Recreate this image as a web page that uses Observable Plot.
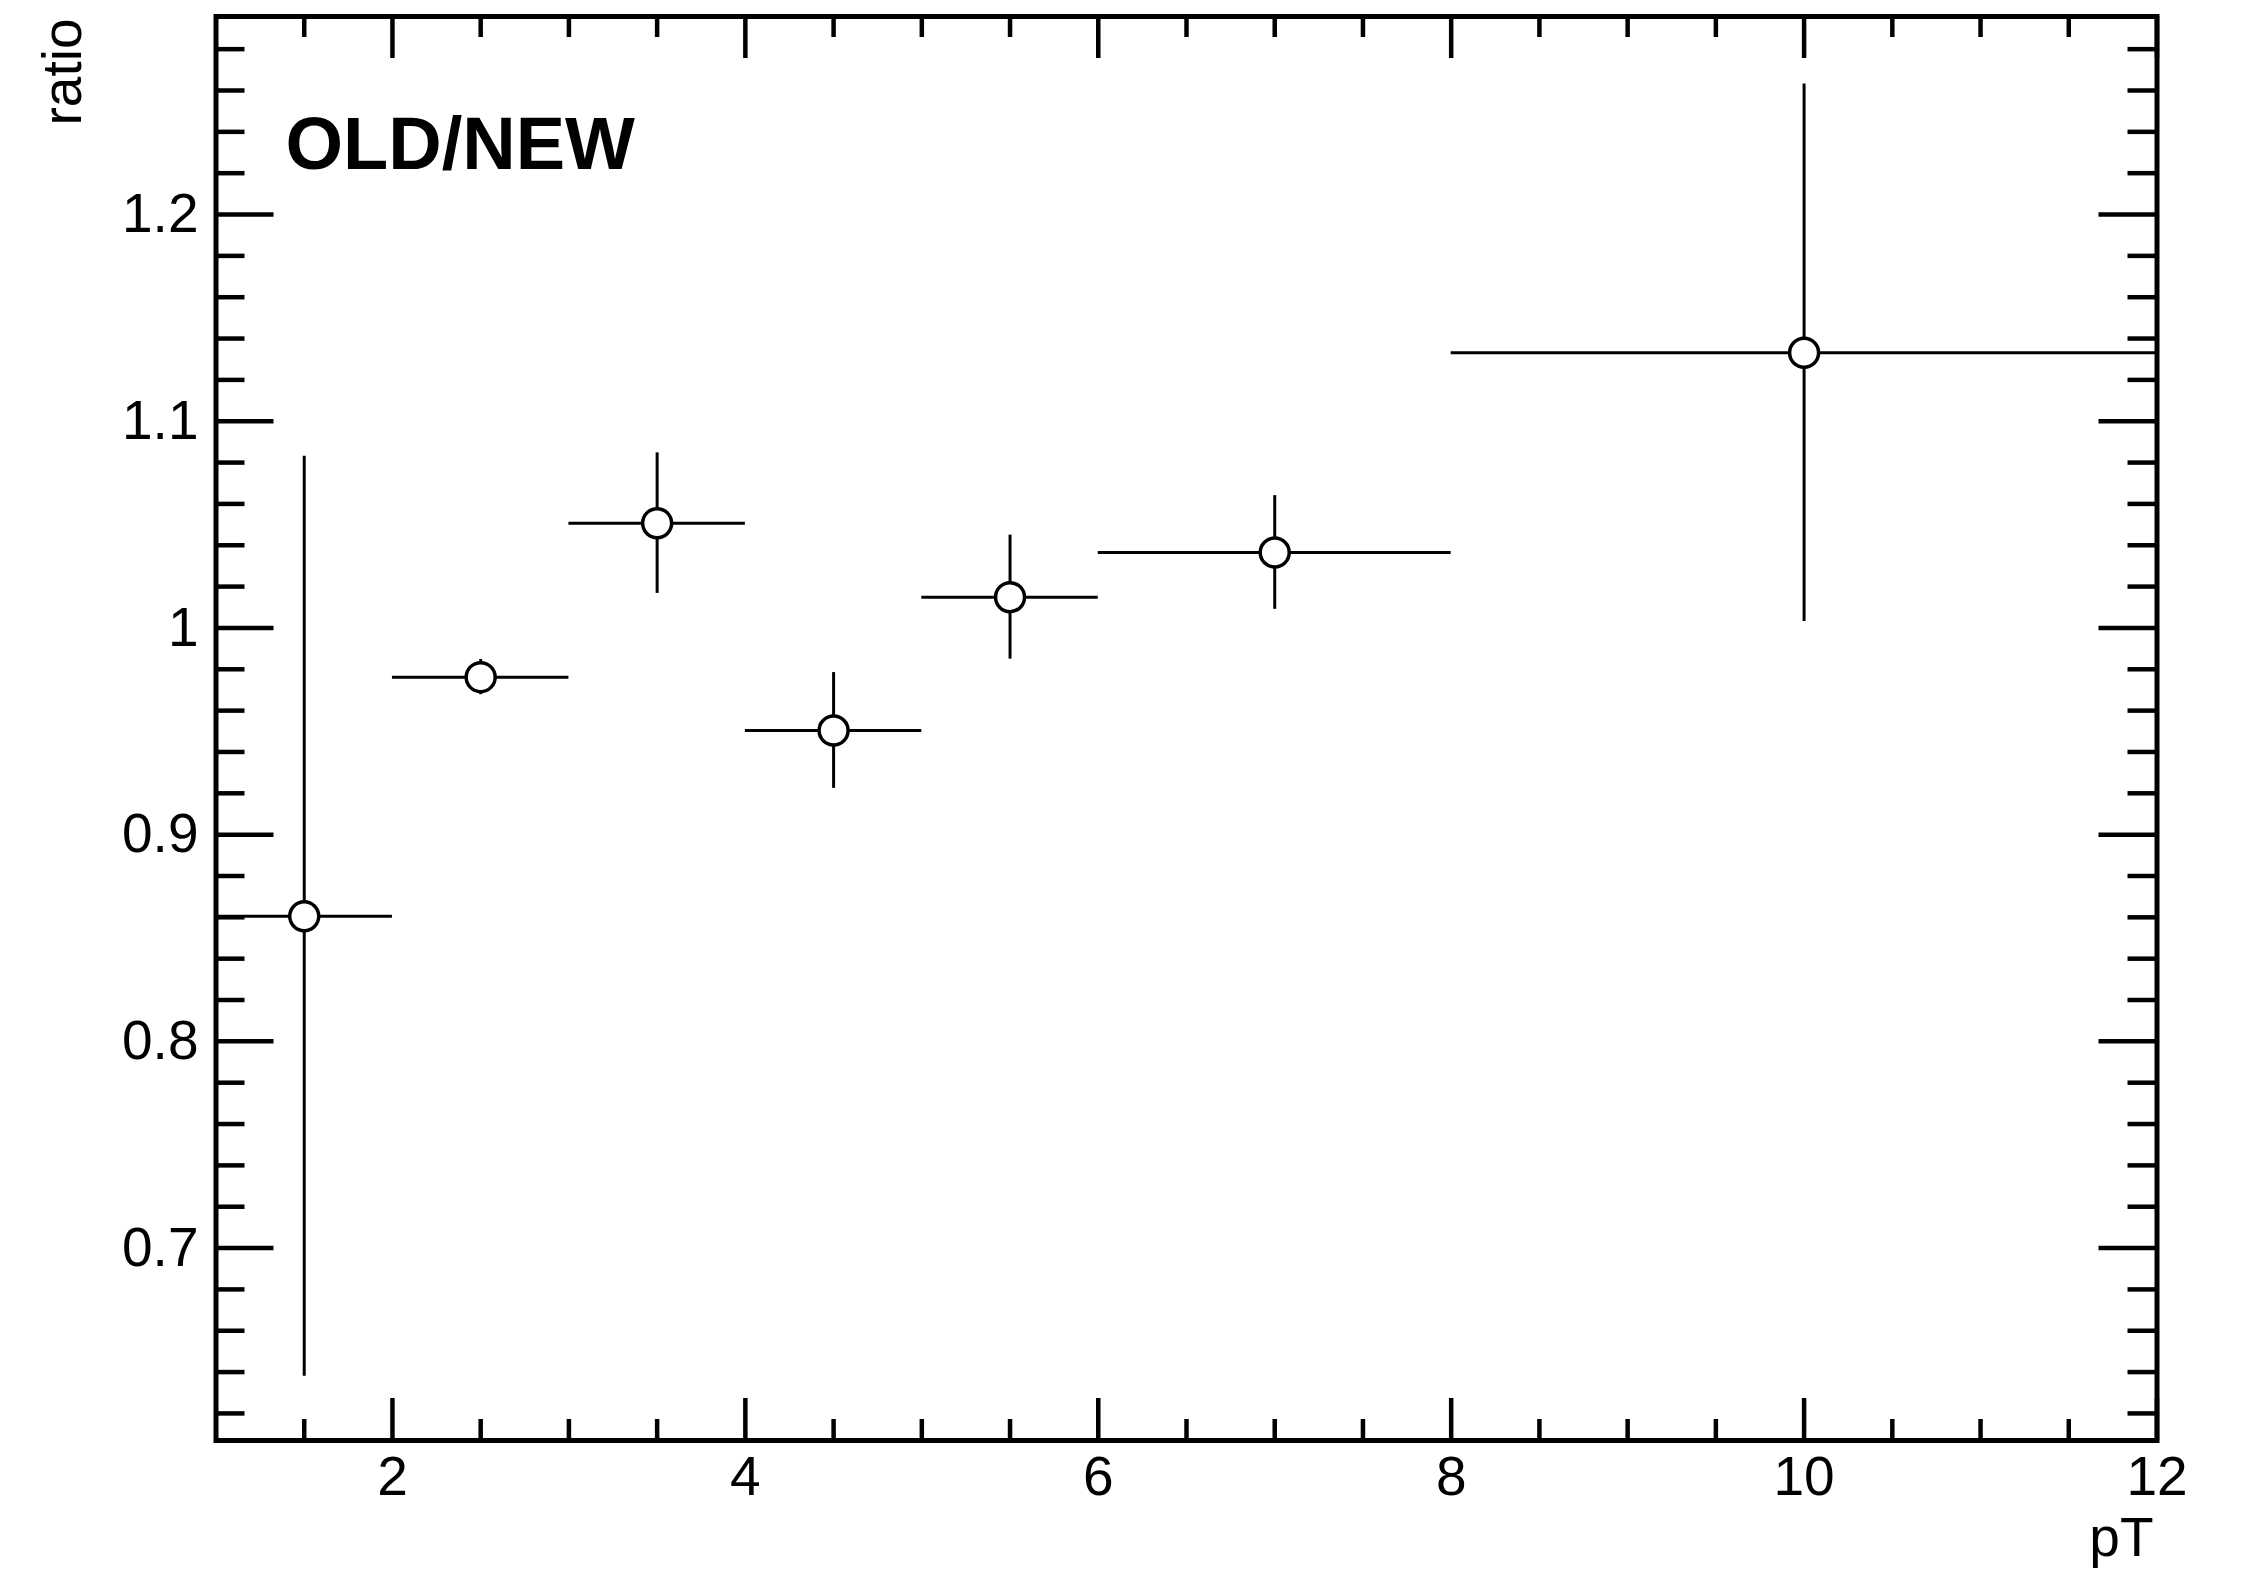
<!DOCTYPE html>
<html><head><meta charset="utf-8">
<script src="https://cdn.jsdelivr.net/npm/d3@7"></script>
<script src="https://cdn.jsdelivr.net/npm/@observablehq/plot@0.6"></script>
<style>body{margin:0;background:#fff}#chart svg{display:block}</style>
</head><body><div id="chart"></div>
<script>
// Data
const binLow = [1, 2, 3, 4, 5, 6, 8];
const binHigh = [2, 3, 4, 5, 6, 8, 12];
const ptCenter = [1.5, 2.5, 3.5, 4.5, 5.5, 7, 10];
const ratio = [0.8605, 0.9762, 1.0507, 0.9504, 1.0149, 1.0365, 1.1331];
const ratioErr = [0.2225, 0.0085, 0.034, 0.028, 0.030, 0.0275, 0.130];

// Ticks
const xMajorTicks = [2, 4, 6, 8, 10, 12];
const xMinorTicks = [1.5, 2.5, 3, 3.5, 4.5, 5, 5.5, 6.5, 7, 7.5, 8.5, 9, 9.5, 10.5, 11, 11.5];
const yMajorTicks = [0.7, 0.8, 0.9, 1, 1.1, 1.2];
const yMinorTicks = [0.62, 0.64, 0.66, 0.68, 0.72, 0.74, 0.76, 0.78, 0.82, 0.84, 0.86, 0.88,
  0.92, 0.94, 0.96, 0.98, 1.02, 1.04, 1.06, 1.08, 1.12, 1.14, 1.16, 1.18, 1.22, 1.24, 1.26, 1.28];

const xDomain = [1, 12];
const yDomain = [0.6069, 1.2958];
const titleText = ["OLD/NEW"];
const xLabel = ["pT"];
const yLabel = ["ratio"];

const points = ptCenter.map((x, i) => ({x, lo: binLow[i], hi: binHigh[i], y: ratio[i], e: ratioErr[i]}));

const W = 2254, H = 1573;
const mL = 215.5, mR = 97.5, mT = 16, mB = 133;
const innerW = W - mL - mR, innerH = H - mT - mB;
const majX = 42, minX = 21, majY = 58, minY = 29;
const tickW = 4.5;
const font = "'Liberation Sans', Arial, Helvetica, sans-serif";

const chart = Plot.plot({
  width: W, height: H,
  marginLeft: mL, marginRight: mR, marginTop: mT, marginBottom: mB,
  x: {domain: xDomain},
  y: {domain: yDomain},
  style: {fontFamily: font, fontSize: "55px", color: "black", background: "white"},
  marks: [
    // bottom / top x ticks
    Plot.tickX(xMajorTicks, {x: d => d, insetTop: innerH - majX, stroke: "black", strokeWidth: tickW}),
    Plot.tickX(xMinorTicks, {x: d => d, insetTop: innerH - minX, stroke: "black", strokeWidth: tickW}),
    Plot.tickX(xMajorTicks, {x: d => d, insetBottom: innerH - majX, stroke: "black", strokeWidth: tickW}),
    Plot.tickX(xMinorTicks, {x: d => d, insetBottom: innerH - minX, stroke: "black", strokeWidth: tickW}),
    // left / right y ticks
    Plot.tickY(yMajorTicks, {y: d => d, insetRight: innerW - majY, stroke: "black", strokeWidth: tickW}),
    Plot.tickY(yMinorTicks, {y: d => d, insetRight: innerW - minY, stroke: "black", strokeWidth: tickW}),
    Plot.tickY(yMajorTicks, {y: d => d, insetLeft: innerW - majY, stroke: "black", strokeWidth: tickW}),
    Plot.tickY(yMinorTicks, {y: d => d, insetLeft: innerW - minY, stroke: "black", strokeWidth: tickW}),
    // axis labels
    Plot.axisX({ticks: xMajorTicks, tickSize: 0, tickPadding: 15, tickFormat: d => String(d), label: null, fontSize: 55}),
    Plot.axisY({ticks: yMajorTicks, tickSize: 0, tickPadding: 17.5, tickFormat: d3.format("~g"), label: null, fontSize: 55}),
    // error bars
    Plot.ruleY(points, {y: "y", x1: "lo", x2: "hi", stroke: "black", strokeWidth: 3}),
    Plot.ruleX(points, {x: "x", y1: d => d.y - d.e, y2: d => d.y + d.e, stroke: "black", strokeWidth: 3}),
    // markers
    Plot.dot(points, {x: "x", y: "y", r: 14.5, fill: "white", stroke: "black", strokeWidth: 3.5}),
    // frame
    Plot.frame({stroke: "black", strokeWidth: 5}),
    // texts
    Plot.text(titleText, {text: d => d, frameAnchor: "top-left", dx: 69.5, dy: 100, textAnchor: "start",
      lineAnchor: "top", fontSize: 74, fontWeight: "bold", fill: "black"}),
    Plot.text(xLabel, {text: d => d, frameAnchor: "bottom-right", dx: -3.5, dy: 115, textAnchor: "end",
      lineAnchor: "bottom", fontSize: 55, fill: "black"}),
    Plot.text(yLabel, {text: d => d, frameAnchor: "top-left", dx: -135.5, dy: 2, textAnchor: "end",
      lineAnchor: "bottom", rotate: -90, fontSize: 55, fill: "black"})
  ]
});
document.getElementById("chart").append(chart);
</script>
</body></html>
